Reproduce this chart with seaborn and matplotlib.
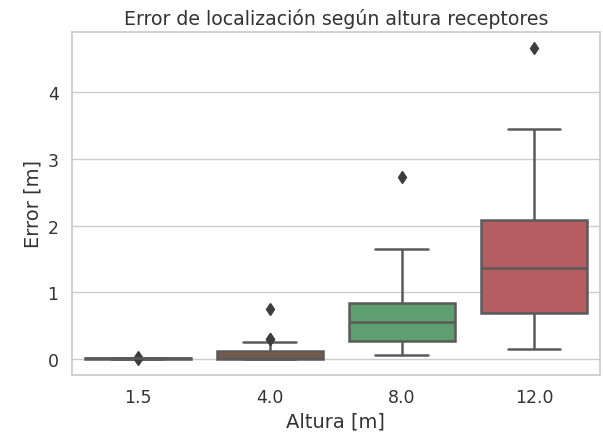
import numpy as np
import pandas as pd
import seaborn as sns
import matplotlib
matplotlib.use("Agg")
import matplotlib.pyplot as plt

# Receiver heights [m] and localization error samples [m] at each height
alturas = ["1.5", "4.0", "8.0", "12.0"]
error_1_5 = [0.0, 0.012, 0.013, 0.014, 0.015, 0.016, 0.017, 0.018, 0.03]
error_4_0 = [0.0, 0.0, 0.0, 0.005, 0.005, 0.01, 0.01, 0.015, 0.02,
             0.03, 0.05, 0.08, 0.12, 0.26, 0.30, 0.31, 0.76]
error_8_0 = [0.06, 0.2, 0.27, 0.4, 0.56, 0.7, 0.85, 1.65, 2.72]
error_12_0 = [0.15, 0.5, 0.70, 1.0, 1.36, 1.8, 2.09, 3.44, 4.66]
colores = [sns.desaturate("#4C72B0", 0.75), "#775a4c",
           sns.desaturate("#55A868", 0.75), sns.desaturate("#C44E52", 0.75)]

muestras = [error_1_5, error_4_0, error_8_0, error_12_0]
df = pd.DataFrame({
    "Altura": np.repeat(alturas, [len(m) for m in muestras]),
    "Error": np.concatenate(muestras),
})

sns.set_theme(style="whitegrid")
plt.rcParams["font.family"] = ["DejaVu Sans"]
plt.rcParams["text.color"] = ".2"
plt.rcParams["axes.labelcolor"] = ".2"
plt.rcParams["xtick.color"] = ".2"
plt.rcParams["ytick.color"] = ".2"

fig, ax = plt.subplots(figsize=(6.03, 4.39), dpi=100)
fig.subplots_adjust(left=0.119, right=0.995, top=0.925, bottom=0.1435)

sns.boxplot(
    data=df, x="Altura", y="Error", hue="Altura", order=alturas,
    hue_order=alturas, palette=colores, saturation=1, legend=False,
    width=0.8, linewidth=1.8, linecolor="#5a5a5a",
    flierprops=dict(marker="d", markerfacecolor="#3d3d3d",
                    markeredgecolor="#3d3d3d", markersize=6),
    ax=ax,
)

ax.set_title("Error de localización según altura receptores", fontsize=13.6)
ax.set_xlabel("Altura [m]", fontsize=14)
ax.set_ylabel("Error [m]", fontsize=14)
ax.tick_params(labelsize=12.5)
ax.set_yticks([0, 1, 2, 3, 4])

fig.savefig("out.png", dpi=100)
